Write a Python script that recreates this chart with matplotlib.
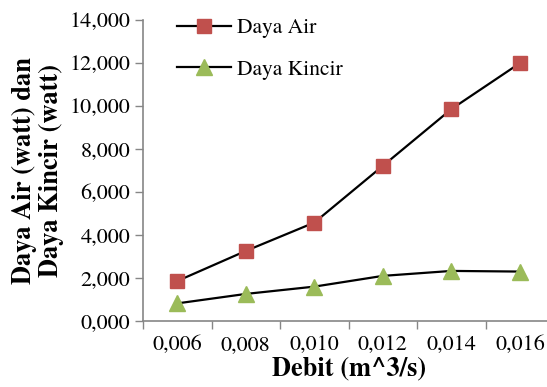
import matplotlib
matplotlib.use("Agg")
import matplotlib.pyplot as plt
from matplotlib.ticker import FuncFormatter, FixedLocator

plt.rcParams['font.family'] = ['TeX Gyre Termes', 'Liberation Serif', 'DejaVu Serif']

# debit categories and measured power
debit = ['0,006', '0,008', '0,010', '0,012', '0,014', '0,016']
daya_air = [1.86, 3.26, 4.58, 7.22, 9.86, 12.0]
daya_kincir = [0.82, 1.26, 1.60, 2.10, 2.33, 2.30]

fig = plt.figure(figsize=(5.47, 3.87), dpi=100)
ax = fig.add_axes([0.2614, 0.1705, 0.752, 0.7778])

x = list(range(len(debit)))
ax.plot(x, daya_air, color='black', lw=1.6, marker='s', ms=10.5,
        mfc='#C0504D', mec='#C0504D', label='Daya Air')
ax.plot(x, daya_kincir, color='black', lw=1.6, marker='^', ms=11.5,
        mfc='#9BBB59', mec='#9BBB59', label='Daya Kincir')

ax.set_xlim(-0.5, len(debit) - 0.5)
ax.set_ylim(0, 14)
ax.set_yticks(range(0, 15, 2))
ax.yaxis.set_major_formatter(FuncFormatter(lambda v, p: f"{v:.3f}".replace('.', ',')))

# category labels centred, tick marks on the boundaries
ax.set_xticks(x)
ax.set_xticklabels(debit)
ax.xaxis.set_minor_locator(FixedLocator([i - 0.5 for i in range(len(debit) + 1)]))
ax.tick_params(axis='x', which='major', length=0, pad=10, labelsize=16)
ax.tick_params(axis='x', which='minor', length=6, color='#868686', width=1)
ax.tick_params(axis='y', length=6, color='#868686', width=1, labelsize=16, pad=3)

for s in ['top', 'right']:
    ax.spines[s].set_visible(False)
for s in ['left', 'bottom']:
    ax.spines[s].set_color('#868686')
    ax.spines[s].set_linewidth(1.2)

ax.set_xlabel('Debit (m^3/s)', fontsize=19, fontweight='bold', labelpad=1)
ax.set_ylabel('Daya Air (watt) dan\nDaya Kincir (watt)', fontsize=19,
              fontweight='bold', labelpad=4, linespacing=1.08)

ax.legend(loc='upper left', bbox_to_anchor=(177 / 547, 1 - 18 / 387),
          bbox_transform=fig.transFigure, borderpad=0, borderaxespad=0,
          frameon=False, fontsize=15.5, handlelength=2.5, labelspacing=1.0,
          handletextpad=0.3)

fig.savefig('out.png', dpi=100)
